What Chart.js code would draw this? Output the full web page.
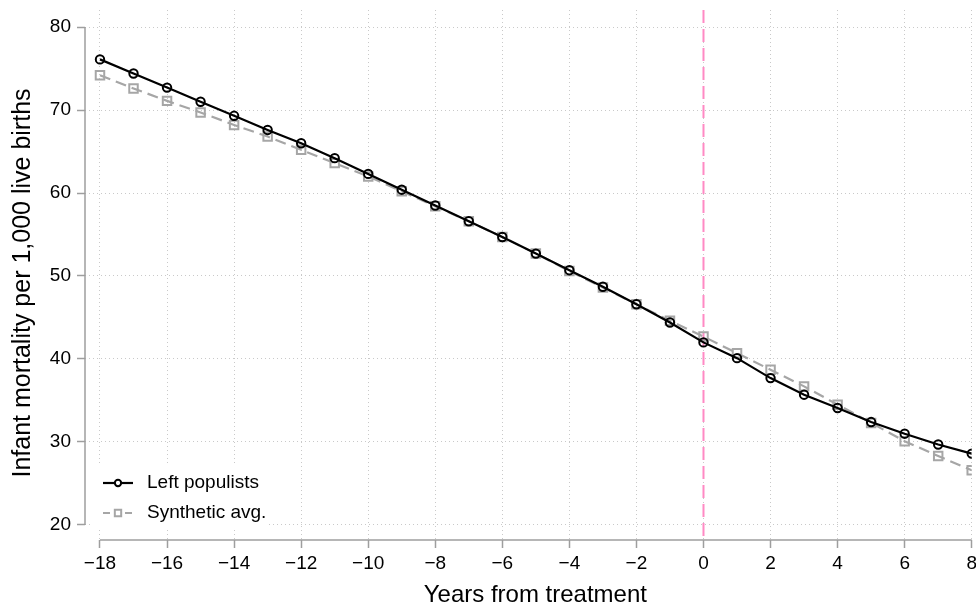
<!DOCTYPE html>
<html>
<head>
<meta charset="utf-8">
<script src="https://cdn.jsdelivr.net/npm/chart.js@4.4.1/dist/chart.umd.min.js"></script>
<style>
  html, body { margin: 0; padding: 0; background: #ffffff; overflow: hidden; width: 976px; height: 605px; }
  #wrap { width: 981px; height: 605px; position: relative; }
</style>
</head>
<body>
<div id="wrap"><canvas id="c"></canvas></div>
<script>
// ---- data ----
const years = [-18,-17,-16,-15,-14,-13,-12,-11,-10,-9,-8,-7,-6,-5,-4,-3,-2,-1,0,1,2,3,4,5,6,7,8];
const leftPopulists = [76.1,74.4,72.7,71.0,69.3,67.6,66.0,64.2,62.3,60.4,58.5,56.6,54.7,52.7,50.7,48.7,46.6,44.4,42.0,40.1,37.7,35.7,34.1,32.4,31.0,29.7,28.6];
const syntheticAvg = [74.2,72.6,71.1,69.7,68.2,66.8,65.2,63.6,62.0,60.2,58.4,56.6,54.7,52.7,50.6,48.6,46.6,44.6,42.7,40.7,38.7,36.7,34.5,32.3,30.1,28.3,26.6];
const seriesNames = ['Left populists', 'Synthetic avg.'];
const xTicks = [-18,-16,-14,-12,-10,-8,-6,-4,-2,0,2,4,6,8];
const yTicks = [20,30,40,50,60,70,80];
const treatmentYear = 0;
const xTitle = 'Years from treatment';
const yTitle = 'Infant mortality per 1,000 live births';

const FONT = '"Liberation Sans", Arial, Helvetica, sans-serif';
const AXIS_GRAY = '#9e9e9e';
const GRID_GRAY = '#c9c9c9';

function fmt(v) { return v < 0 ? '\u2212' + Math.abs(v) : String(v); }

const pts = arr => years.map((x, i) => ({x: x, y: arr[i]}));

const decor = {
  id: 'decor',
  beforeDatasetsDraw(chart) {
    const ctx = chart.ctx, xs = chart.scales.x, a = chart.chartArea;
    ctx.save();
    const xp = xs.getPixelForValue(treatmentYear);
    ctx.strokeStyle = '#ff8ac4';
    ctx.lineWidth = 2;
    ctx.setLineDash([13, 6]);
    ctx.beginPath(); ctx.moveTo(xp, a.top); ctx.lineTo(xp, a.bottom); ctx.stroke();
    ctx.restore();
  },
  afterDraw(chart) {
    const ctx = chart.ctx, xs = chart.scales.x, ys = chart.scales.y, a = chart.chartArea;
    ctx.save();
    ctx.strokeStyle = AXIS_GRAY;
    ctx.lineWidth = 1.5;
    ctx.setLineDash([]);
    // y axis line over the tick range
    ctx.beginPath();
    ctx.moveTo(a.left, ys.getPixelForValue(yTicks[0]));
    ctx.lineTo(a.left, ys.getPixelForValue(yTicks[yTicks.length - 1]));
    ctx.stroke();
    // x axis line over the tick range
    ctx.beginPath();
    ctx.moveTo(xs.getPixelForValue(xTicks[0]), a.bottom);
    ctx.lineTo(xs.getPixelForValue(xTicks[xTicks.length - 1]), a.bottom);
    ctx.stroke();

    // axis titles
    ctx.fillStyle = '#000000';
    ctx.font = '24px ' + FONT;
    ctx.textAlign = 'center';
    ctx.textBaseline = 'alphabetic';
    ctx.fillText(xTitle, (a.left + a.right) / 2 + 7, 602);
    ctx.save();
    ctx.font = '25px ' + FONT;
    ctx.translate(30, (a.top + a.bottom) / 2 + 8);
    ctx.rotate(-Math.PI / 2);
    ctx.fillText(yTitle, 0, 0);
    ctx.restore();

    // legend
    ctx.fillStyle = '#ffffff';
    ctx.fillRect(90, 464, 178, 65);
    const rows = [483, 513];
    chart.data.datasets.forEach((ds, i) => {
      const y = rows[i];
      ctx.strokeStyle = ds.borderColor;
      ctx.lineWidth = ds.borderWidth;
      ctx.setLineDash(ds.borderDash ? [7, 4] : []);
      ctx.beginPath(); ctx.moveTo(103, y); ctx.lineTo(133, y); ctx.stroke();
      ctx.setLineDash([]);
      ctx.strokeStyle = ds.pointBorderColor;
      ctx.fillStyle = '#ffffff';
      ctx.lineWidth = ds.pointBorderWidth;
      Chart.helpers.drawPoint(ctx, {
        pointStyle: ds.pointStyle, radius: ds.pointRadius * 0.75, borderWidth: ds.pointBorderWidth, rotation: 0
      }, 118, y);
      ctx.fillStyle = '#000000';
      ctx.font = '19px ' + FONT;
      ctx.textBaseline = 'middle';
      ctx.textAlign = 'left';
      ctx.fillText(ds.label, 147, y);
    });
    ctx.restore();
  }
};

new Chart(document.getElementById('c'), {
  type: 'line',
  data: {
    datasets: [
      {
        label: seriesNames[0],
        data: pts(leftPopulists),
        borderColor: '#000000',
        borderWidth: 2.2,
        pointStyle: 'circle',
        pointRadius: 4.2,
        pointBorderWidth: 2,
        pointBorderColor: '#000000',
        pointBackgroundColor: 'rgba(0,0,0,0)',
        tension: 0
      },
      {
        label: seriesNames[1],
        data: pts(syntheticAvg),
        borderColor: '#a6a6a6',
        borderWidth: 2.2,
        borderDash: [11, 6],
        pointStyle: 'rect',
        pointRadius: 6,
        pointBorderWidth: 2,
        pointBorderColor: '#a6a6a6',
        pointBackgroundColor: 'rgba(0,0,0,0)',
        tension: 0
      }
    ]
  },
  options: {
    responsive: true,
    maintainAspectRatio: false,
    devicePixelRatio: 1,
    animation: false,
    events: [],
    layout: { padding: { top: 10, right: 3, left: 0, bottom: 0 } },
    plugins: { legend: { display: false }, tooltip: { enabled: false } },
    scales: {
      x: {
        type: 'linear',
        min: -18.447,
        max: 8,
        afterBuildTicks(s) { s.ticks = xTicks.map(v => ({value: v})); },
        afterFit(s) { s.height = 65; s.paddingLeft = 0; },
        border: { display: false, dash: [1, 3] },
        grid: {
          color: GRID_GRAY, lineWidth: 1, tickLength: 8,
          tickColor: AXIS_GRAY, tickWidth: 1.5, tickBorderDash: []
        },
        ticks: {
          autoSkip: false, maxRotation: 0, padding: 4, color: '#000000',
          font: { family: FONT, size: 19 },
          callback: v => fmt(v)
        },
        title: { display: false, text: xTitle }
      },
      y: {
        type: 'linear',
        min: 18.19,
        max: 82.05,
        afterBuildTicks(s) { s.ticks = yTicks.map(v => ({value: v})); },
        afterFit(s) { s.width = 85; s.paddingTop = 0; s.paddingBottom = 0; },
        border: { display: false, dash: [1, 3] },
        grid: {
          color: GRID_GRAY, lineWidth: 1, tickLength: 8,
          tickColor: AXIS_GRAY, tickWidth: 1.5, tickBorderDash: []
        },
        ticks: {
          padding: 6, color: '#000000',
          font: { family: FONT, size: 19 },
          callback: v => fmt(v)
        },
        title: { display: false, text: yTitle }
      }
    }
  },
  plugins: [decor]
});
</script>
</body>
</html>
